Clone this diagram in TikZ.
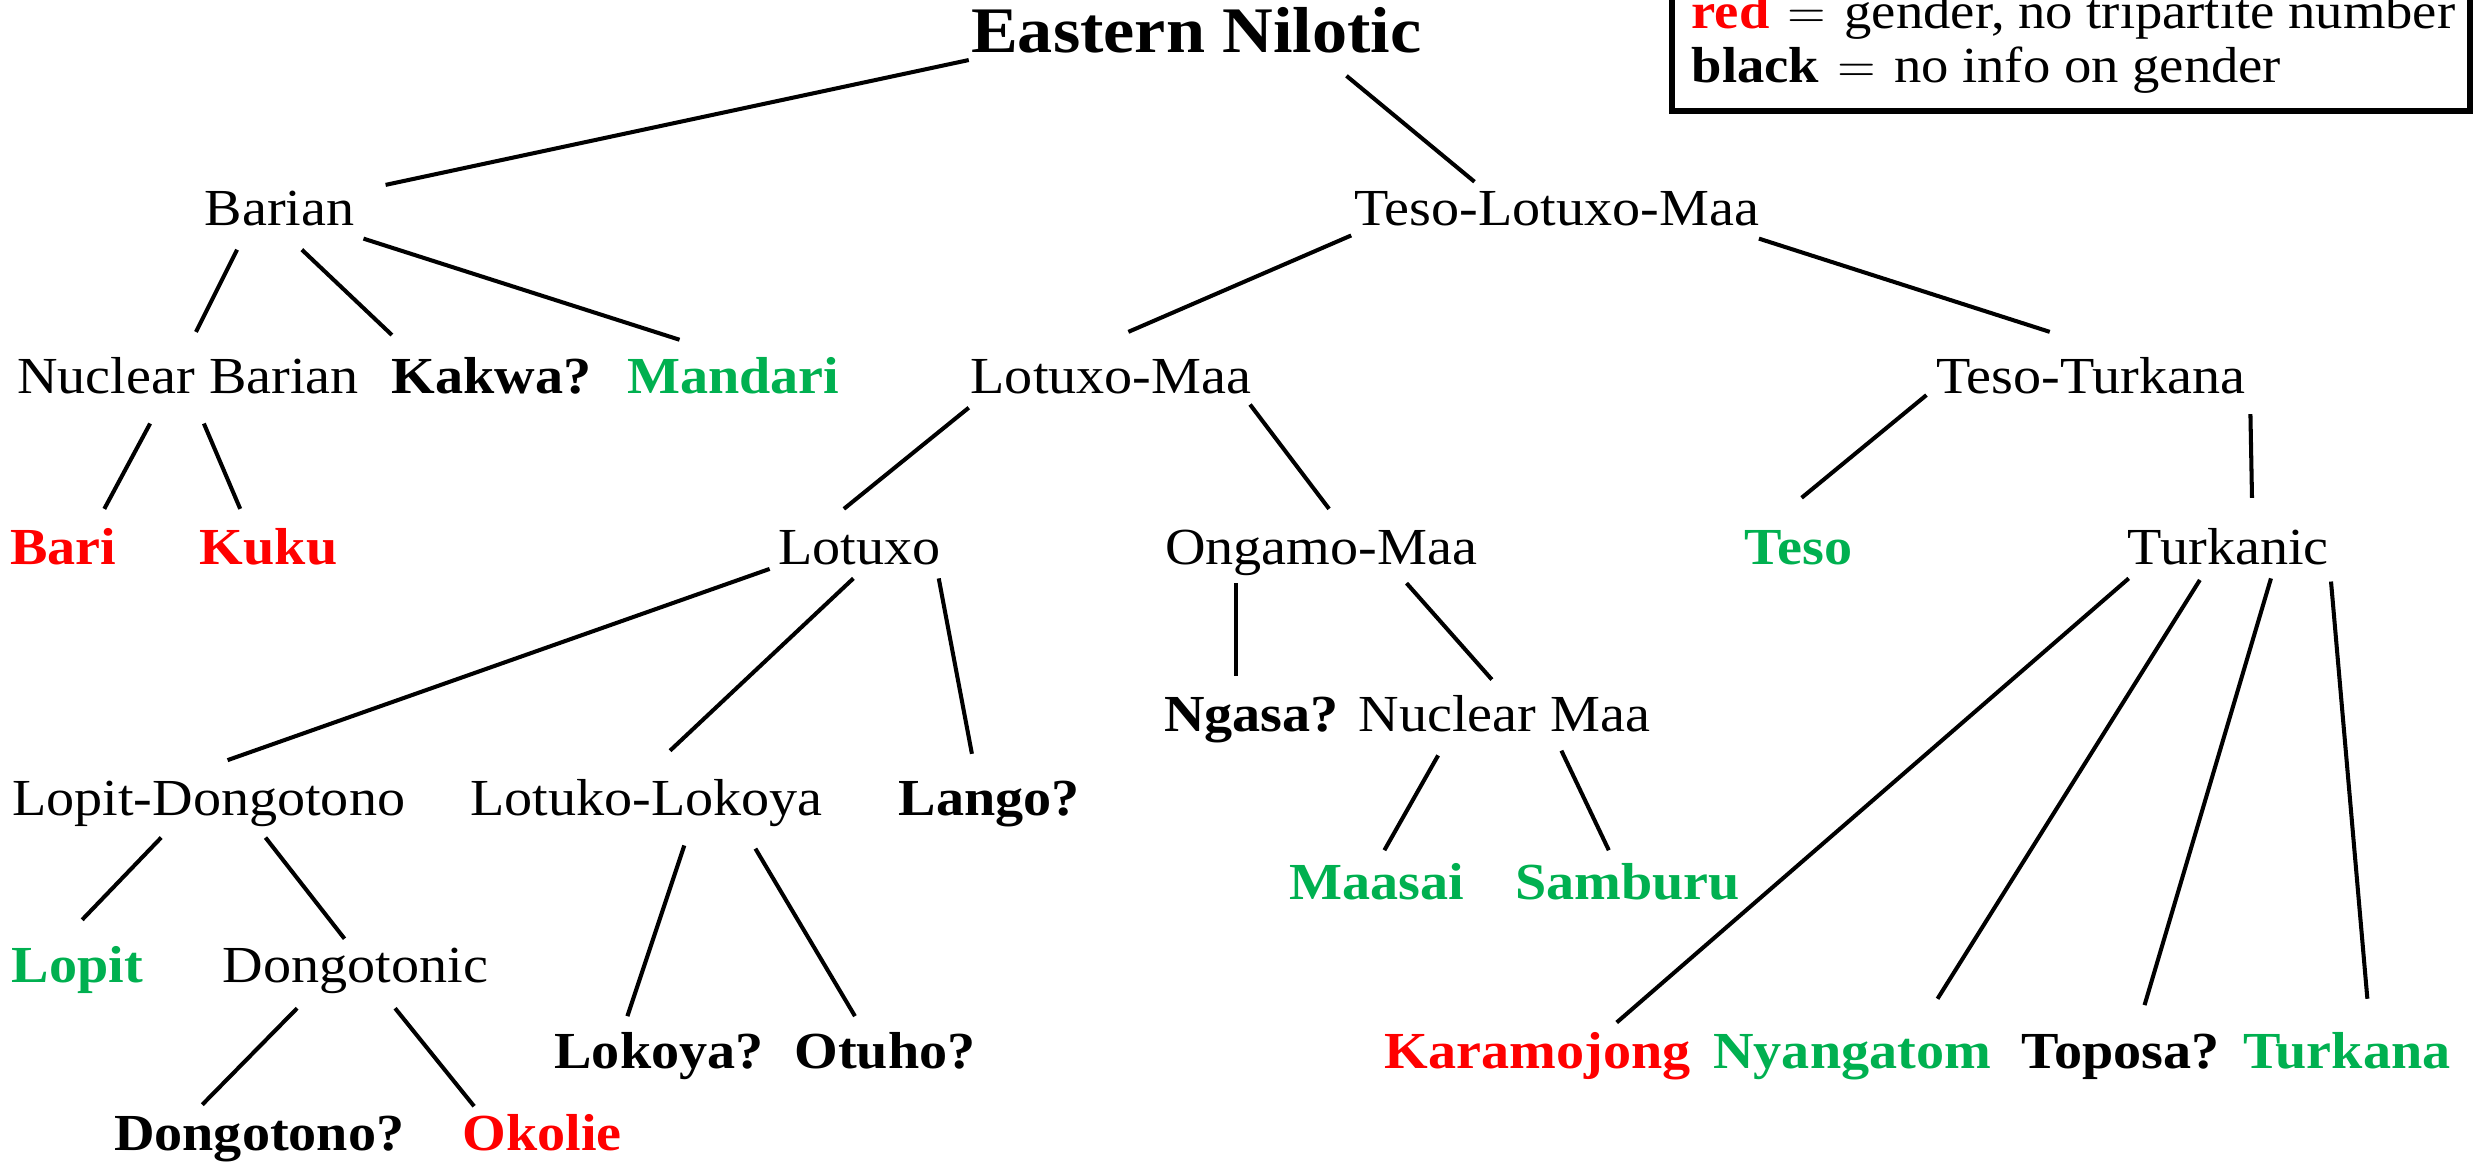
\documentclass[tikz,border=0pt]{standalone}
\usepackage{fontspec}
\setmainfont{Liberation Serif}[FakeStretch=1.08]
\definecolor{gred}{RGB}{255,0,0}
\definecolor{ggreen}{RGB}{0,176,80}
\begin{document}
\begin{tikzpicture}[x=0.015804cm,y=-0.015804cm,
  tx/.style={inner sep=0pt,anchor=base,font=\fontsize{14.8}{18}\selectfont},
  lf/.style={tx,font=\fontsize{14.8}{18}\selectfont\bfseries},
  rd/.style={lf,text=gred},
  gn/.style={lf,text=ggreen},
  lg/.style={inner sep=0pt,anchor=base west,font=\fontsize{14.4}{18}\selectfont},
  ln/.style={line width=1.15pt}]
\useasboundingbox (0,0) rectangle (1568,736);
\clip (0,0) rectangle (1568,736);
% legend
\draw[line width=1.7pt] (1058,-60) rectangle (1563,70);
\node[lg] (leg1) at (1070,18) {\textbf{\color{gred}red}\hspace{0.36em}$=$\hspace{0.36em}gender, no tripartite number};
\node[lg] (leg2) at (1070,52) {\textbf{black}\hspace{0.36em}$=$\hspace{0.36em}no info on gender};
% nodes
\node[tx,font=\fontsize{18.5}{22}\selectfont\bfseries] (east) at (757,33) {Eastern Nilotic};
\node[tx] (barian) at (177,143) {Barian};
\node[tx] (tlm) at (985,143) {Teso-Lotuxo-Maa};
\node[tx] (nb) at (119,249) {Nuclear Barian};
\node[lf] (kakwa) at (311,249) {Kakwa?};
\node[gn] (mandari) at (464,249) {Mandari};
\node[tx] (lm) at (703,249) {Lotuxo-Maa};
\node[tx] (tt) at (1323,249) {Teso-Turkana};
\node[rd] (bari) at (40,357) {Bari};
\node[rd] (kuku) at (170,357) {Kuku};
\node[tx] (lotuxo) at (544,357) {Lotuxo};
\node[tx] (om) at (836,357) {Ongamo-Maa};
\node[gn] (teso) at (1138,357) {Teso};
\node[tx] (turkanic) at (1410,357) {Turkanic};
\node[lf] (ngasa) at (792,463) {Ngasa?};
\node[tx] (nmaa) at (952,463) {Nuclear Maa};
\node[tx] (ld) at (132,516) {Lopit-Dongotono};
\node[tx] (ll) at (409,516) {Lotuko-Lokoya};
\node[lf] (lango) at (626,516) {Lango?};
\node[gn] (maasai) at (871,569) {Maasai};
\node[gn] (samburu) at (1030,569) {Samburu};
\node[gn] (lopit) at (49,622) {Lopit};
\node[tx] (dongotonic) at (225,622) {Dongotonic};
\node[lf] (lokoya) at (417,676) {Lokoya?};
\node[lf] (otuho) at (560,676) {Otuho?};
\node[rd] (karamojong) at (973,676) {Karamojong};
\node[gn] (nyangatom) at (1172,676) {Nyangatom};
\node[lf] (toposa) at (1342,676) {Toposa?};
\node[gn] (turkana) at (1485,676) {Turkana};
\node[lf] (dongotono) at (164,728) {Dongotono?};
\node[rd] (okolie) at (343,728) {Okolie};
% edges
\draw[ln] ([shift={(-144,5)}]east.base) -- ([shift={(67,-26)}]barian.base);
\draw[ln] ([shift={(95,15)}]east.base) -- ([shift={(-52,-28)}]tlm.base);
\draw[ln] ([shift={(-27,15)}]barian.base) -- ([shift={(5,-39)}]nb.base);
\draw[ln] ([shift={(14,15)}]barian.base) -- ([shift={(-63,-37)}]kakwa.base);
\draw[ln] ([shift={(53,8)}]barian.base) -- ([shift={(-34,-34)}]mandari.base);
\draw[ln] ([shift={(-130,6)}]tlm.base) -- ([shift={(11,-39)}]lm.base);
\draw[ln] ([shift={(128,8)}]tlm.base) -- ([shift={(-26,-39)}]tt.base);
\draw[ln] ([shift={(-24,19)}]nb.base) -- ([shift={(26,-35)}]bari.base);
\draw[ln] ([shift={(10,19)}]nb.base) -- ([shift={(-18,-35)}]kuku.base);
\draw[ln] ([shift={(-90,9)}]lm.base) -- ([shift={(-10,-35)}]lotuxo.base);
\draw[ln] ([shift={(88,7)}]lm.base) -- ([shift={(5,-35)}]om.base);
\draw[ln] ([shift={(-104,1)}]tt.base) -- ([shift={(2,-42)}]teso.base);
\draw[ln] ([shift={(101,13)}]tt.base) -- ([shift={(15,-42)}]turkanic.base);
\draw[ln] ([shift={(-57,3)}]lotuxo.base) -- ([shift={(12,-35)}]ld.base);
\draw[ln] ([shift={(-4,9)}]lotuxo.base) -- ([shift={(15,-41)}]ll.base);
\draw[ln] ([shift={(50,9)}]lotuxo.base) -- ([shift={(-11,-39)}]lango.base);
\draw[ln] ([shift={(-54,12)}]om.base) -- ([shift={(-10,-35)}]ngasa.base);
\draw[ln] ([shift={(54,12)}]om.base) -- ([shift={(-8,-33)}]nmaa.base);
\draw[ln] ([shift={(-63,9)}]turkanic.base) -- ([shift={(50,-29)}]karamojong.base);
\draw[ln] ([shift={(-18,10)}]turkanic.base) -- ([shift={(54,-44)}]nyangatom.base);
\draw[ln] ([shift={(27,9)}]turkanic.base) -- ([shift={(15,-40)}]toposa.base);
\draw[ln] ([shift={(65,11)}]turkanic.base) -- ([shift={(13,-44)}]turkana.base);
\draw[ln] ([shift={(-42,15)}]nmaa.base) -- ([shift={(5,-31)}]maasai.base);
\draw[ln] ([shift={(36,12)}]nmaa.base) -- ([shift={(-12,-31)}]samburu.base);
\draw[ln] ([shift={(-30,14)}]ld.base) -- ([shift={(3,-40)}]lopit.base);
\draw[ln] ([shift={(36,14)}]ld.base) -- ([shift={(-7,-28)}]dongotonic.base);
\draw[ln] ([shift={(24,19)}]ll.base) -- ([shift={(-20,-33)}]lokoya.base);
\draw[ln] ([shift={(69,21)}]ll.base) -- ([shift={(-19,-33)}]otuho.base);
\draw[ln] ([shift={(-37,16)}]dongotonic.base) -- ([shift={(-36,-29)}]dongotono.base);
\draw[ln] ([shift={(25,16)}]dongotonic.base) -- ([shift={(-43,-28)}]okolie.base);
\end{tikzpicture}
\end{document}
